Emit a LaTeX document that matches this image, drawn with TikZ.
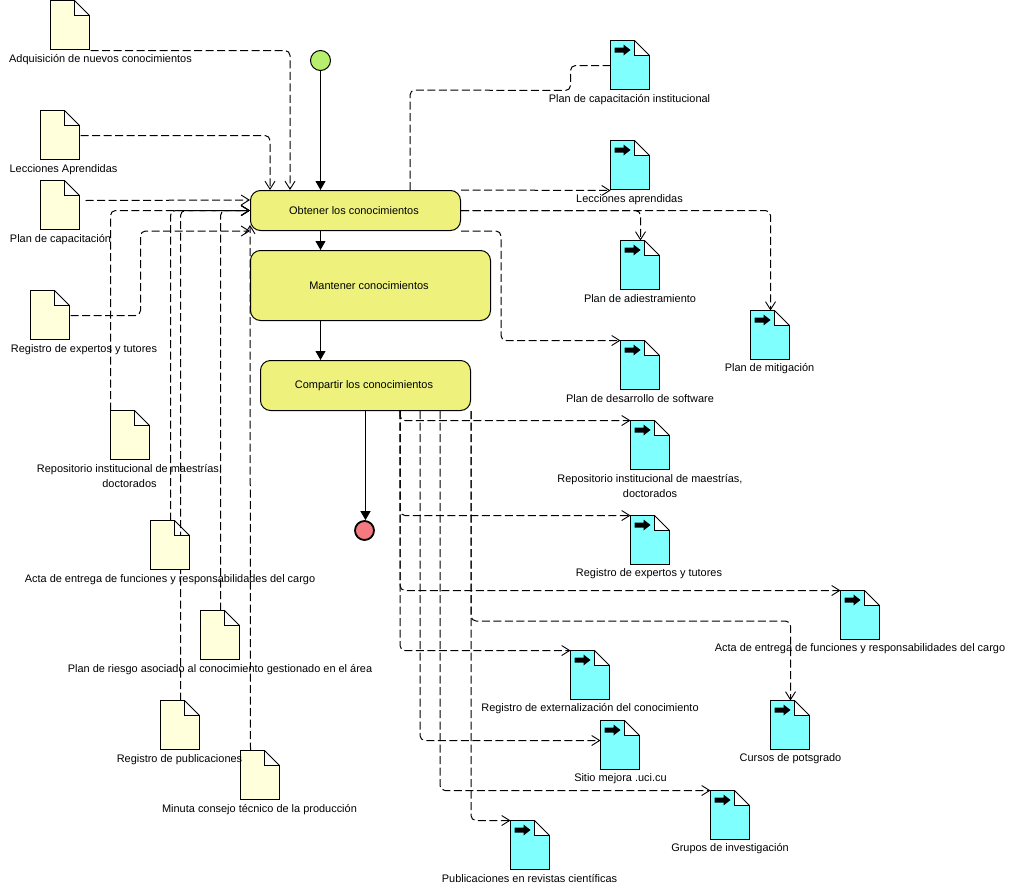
\documentclass[tikz,border=0pt]{standalone}
\usepackage{fontspec}
\setmainfont{Liberation Sans}
\usetikzlibrary{arrows.meta,calc,backgrounds}
\definecolor{actfill}{HTML}{EEF27D}
\definecolor{inyellow}{HTML}{FFFFDC}
\definecolor{outblue}{HTML}{80FFFF}
\definecolor{startgreen}{HTML}{B8EE70}
\definecolor{endred}{HTML}{F47A80}
\tikzset{
  action/.style={draw=black,line width=1pt,fill=actfill,rounded corners=10pt,inner sep=0pt,align=center,font=\fontsize{10.95}{13}\selectfont},
  docbox/.style={inner sep=0pt,outer sep=0pt,minimum width=40pt,minimum height=50pt},
  docline/.style={draw=black,line width=1pt,line join=miter},
  lab/.style={inner sep=0pt,align=center,font=\fontsize{10.95}{15}\selectfont},
  dep/.style={draw=black,line width=1pt,dash pattern=on 8pt off 3.5pt,rounded corners=5pt,-{Straight Barb[length=8pt,width=10pt,line width=0.9pt]}},
  depplain/.style={draw=black,line width=1pt,dash pattern=on 8pt off 3.5pt,rounded corners=5pt},
  flow/.style={draw=black,line width=1pt,-{Triangle[length=9pt,width=10pt]}}
}
\newcommand{\indoc}[3]{%
  \node[docbox] (#1) at (#2+20,#3+25) {};
  \begin{scope}[shift={(#2,#3)}]
    \path[docline,fill=inyellow] (0,0) -- (24,0) -- (24,15) -- (39,15) -- (39,49) -- (0,49) -- cycle;
    \path[docline] (24,0) -- (39,15);
  \end{scope}}
\newcommand{\outdoc}[3]{%
  \node[docbox] (#1) at (#2+20,#3+25) {};
  \begin{scope}[shift={(#2,#3)}]
    \path[docline,fill=outblue] (0,0) -- (24,0) -- (24,15) -- (39,15) -- (39,49) -- (0,49) -- cycle;
    \path[docline] (24,0) -- (39,15);
    \fill[black] (4,7) -- (13,7) -- (13,4) -- (20,9.5) -- (13,15) -- (13,12) -- (4,12) -- cycle;
  \end{scope}}
\begin{document}
\begin{tikzpicture}[x=1pt,y=-1pt]
\useasboundingbox (-0.5,-0.5) rectangle (1019.5,888.5);
% actions and events
\node[draw=black,line width=1pt,fill=startgreen,circle,minimum size=20pt,inner sep=0pt] (ini) at (320,60) {};
\node[draw=black,line width=1.8pt,fill=endred,circle,minimum size=19pt,inner sep=0pt] (fin) at (364,530) {};
\node[action,minimum width=210pt,minimum height=40pt] (obt) at (355,210) {\hspace*{-3pt}Obtener los conocimientos};
\node[action,minimum width=240pt,minimum height=70pt] (man) at (370,285) {\hspace*{-3pt}Mantener conocimientos};
\node[action,minimum width=210pt,minimum height=50pt] (com) at (365,385) {\hspace*{-3pt}Compartir los conocimientos};
% input documents
\indoc{adq}{50}{0}
\indoc{lec}{40}{110}
\indoc{pca}{40}{180}
\indoc{rex}{30}{290}
\indoc{rep}{110}{410}
\indoc{act}{150}{520}
\indoc{rie}{200}{610}
\indoc{pub}{160}{700}
\indoc{mnt}{240}{750}
% output documents
\outdoc{oca}{610}{40}
\outdoc{ole}{610}{140}
\outdoc{oad}{620}{240}
\outdoc{omi}{750}{310}
\outdoc{ode}{620}{340}
\outdoc{ore}{630}{420}
\outdoc{oex}{630}{515}
\outdoc{oac}{840}{590}
\outdoc{oen}{570}{650}
\outdoc{osi}{600}{720}
\outdoc{ocu}{770}{700}
\outdoc{ogr}{710}{790}
\outdoc{opu}{510}{820}
% labels
\node[lab] (t1) at (100,59) {Adquisición de nuevos conocimientos};
\node[lab] (t2) at (63,169) {Lecciones Aprendidas};
\node[lab] (t3) at (60,239) {Plan de capacitación};
\node[lab] (t4) at (83.5,349) {Registro de expertos y tutores};
\node[lab] (t5) at (129,476) {Repositorio institucional de maestrías,\\doctorados};
\node[lab] (t6) at (169.5,579) {Acta de entrega de funciones y responsabilidades del cargo};
\node[lab] (t7) at (219.5,669) {Plan de riesgo asociado al conocimiento gestionado en el área};
\node[lab] (t8) at (179,759) {Registro de publicaciones};
\node[lab] (t9) at (259,809) {Minuta consejo técnico de la producción};
\node[lab] (u1) at (629,99) {Plan de capacitación institucional};
\node[lab] (u2) at (629,199) {Lecciones aprendidas};
\node[lab] (u3) at (639.5,298.5) {Plan de adiestramiento};
\node[lab] (u4) at (769,368.5) {Plan de mitigación};
\node[lab] (u5) at (639.5,398.5) {Plan de desarrollo de software};
\node[lab] (u6) at (649.5,486) {Repositorio institucional de maestrías,\\doctorados};
\node[lab] (u7) at (648.5,573.5) {Registro de expertos y tutores};
\node[lab] (u8) at (859.5,648.5) {Acta de entrega de funciones y responsabilidades del cargo};
\node[lab] (u9) at (589.5,708.5) {Registro de externalización del conocimiento};
\node[lab] (u10) at (620,778.5) {Sitio mejora .uci.cu};
\node[lab] (u11) at (790,758.5) {Cursos de potsgrado};
\node[lab] (u12) at (729.5,848.5) {Grupos de investigación};
\node[lab] (u13) at (529,878.5) {Publicaciones en revistas científicas};
% connectors
\begin{scope}[on background layer]
\draw[flow] (ini) -- (ini |- obt.north);
\draw[flow] (ini |- obt.south) -- (ini |- man.north);
\draw[flow] (ini |- man.south) -- (ini |- com.north);
\draw[flow] (com.south) -- (com.south |- fin.north);
% inputs
\draw[dep] (adq.south east) -| ($(obt.north west)+(40,0)$);
\draw[dep] (lec.east) -| ($(obt.north west)+(20,0)$);
\draw[dep] ($(pca.north east)+(5,20)$) -- ($(obt.north west)+(0,10)$);
\draw[dep] (rex.east) -- ++(70,0) |- (obt.south west);
\draw[dep] (rep.north west) |- (obt.west);
\draw[dep] (act.north) |- (obt.west);
\draw[dep] (pub.north) |- (obt.west);
\draw[dep] (rie.north) |- (obt.west);
\draw[dep] ($(mnt.north west)+(10,0)$) -- ($(obt.south west)+(0,-6)$);
% outputs
\draw[depplain] (oca.west) -- ++(-40,0) -- ++(0,25) -- ($(obt.north west)+(160,-100)$) -- ($(obt.north west)+(160,0)$);
\draw[dep] (obt.north east) -- (ole.south west);
\draw[dep] (obt.east) -| (oad.north);
\draw[dep] (obt.east) -| (omi.north);
\draw[dep] (obt.south east) -- ++(40,0) |- (ode.north west);
\draw[dep] ($(com.south west)+(140,0)$) |- (ore.north west);
\draw[dep] ($(com.south west)+(140,0)$) |- (oex.north west);
\draw[dep] ($(com.south west)+(140,0)$) |- (oac.north west);
\draw[dep] ($(com.south west)+(140,0)$) |- (oen.north west);
\draw[dep] ($(com.south west)+(160,0)$) |- ($(osi.north west)+(0,20)$);
\draw[dep] ($(com.south west)+(180,0)$) |- (ogr.north west);
\draw[dep] (com.south east) |- (opu.north west);
\draw[dep] (com.south east) -- ++(0,210) -| (ocu.north);
\end{scope}
\end{tikzpicture}
\end{document}
